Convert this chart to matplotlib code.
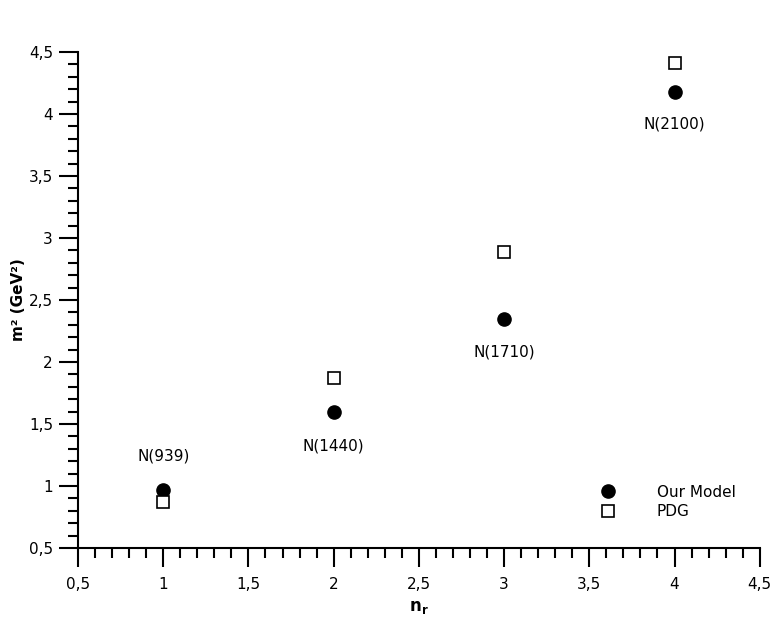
import matplotlib
matplotlib.use("Agg")
import matplotlib.pyplot as plt
from matplotlib.ticker import MultipleLocator, FuncFormatter

n_r = [1, 2, 3, 4]
model = [0.97, 1.60, 2.35, 4.18]
pdg = [0.87, 1.87, 2.89, 4.41]
labels = ["N(939)", "N(1440)", "N(1710)", "N(2100)"]
label_y = [1.24, 1.32, 2.08, 3.92]

plt.rcParams['font.family'] = ['DejaVu Sans']
fig = plt.figure(figsize=(7.8, 6.34), dpi=100)
ax = fig.add_axes([0.1, 0.1356, 0.874, 0.7824])

ax.plot(n_r, model, 'o', color='black', markersize=9.5, label='Our Model', zorder=3)
ax.plot(n_r, pdg, 's', markerfacecolor='white', markeredgecolor='black',
        markeredgewidth=1.2, markersize=8.5, label='PDG', zorder=3)

for x, y, t in zip(n_r, label_y, labels):
    ax.text(x, y, t, ha='center', va='center', fontsize=11)

ax.set_xlim(0.5, 4.5)
ax.set_ylim(0.5, 4.5)
ax.xaxis.set_major_locator(MultipleLocator(0.5))
ax.yaxis.set_major_locator(MultipleLocator(0.5))
ax.xaxis.set_minor_locator(MultipleLocator(0.1))
ax.yaxis.set_minor_locator(MultipleLocator(0.1))
fmt = FuncFormatter(lambda v, p: ('%g' % v).replace('.', ','))
ax.xaxis.set_major_formatter(fmt)
ax.yaxis.set_major_formatter(fmt)
ax.tick_params(which='major', direction='out', length=14, width=1.5, labelsize=11)
ax.tick_params(axis='x', which='major', pad=7)
ax.tick_params(axis='y', which='major', pad=4)
ax.tick_params(which='minor', direction='out', length=7, width=1.5)
for s in ['top', 'right']:
    ax.spines[s].set_visible(False)
for s in ['left', 'bottom']:
    ax.spines[s].set_linewidth(1.5)

ax.set_xlabel(r'$\mathbf{n_r}$', fontsize=12, fontweight='bold')
ax.set_ylabel('m² (GeV²)', fontsize=11, fontweight='bold')
ax.yaxis.set_label_coords(-0.076, 0.5)
ax.xaxis.set_label_coords(0.5, -0.1)

ax.legend(loc='lower right', bbox_to_anchor=(0.985, 0.03), frameon=False, fontsize=11,
          handletextpad=2.7, labelspacing=0.3, handlelength=1.0)

fig.savefig('out.png', dpi=100)
